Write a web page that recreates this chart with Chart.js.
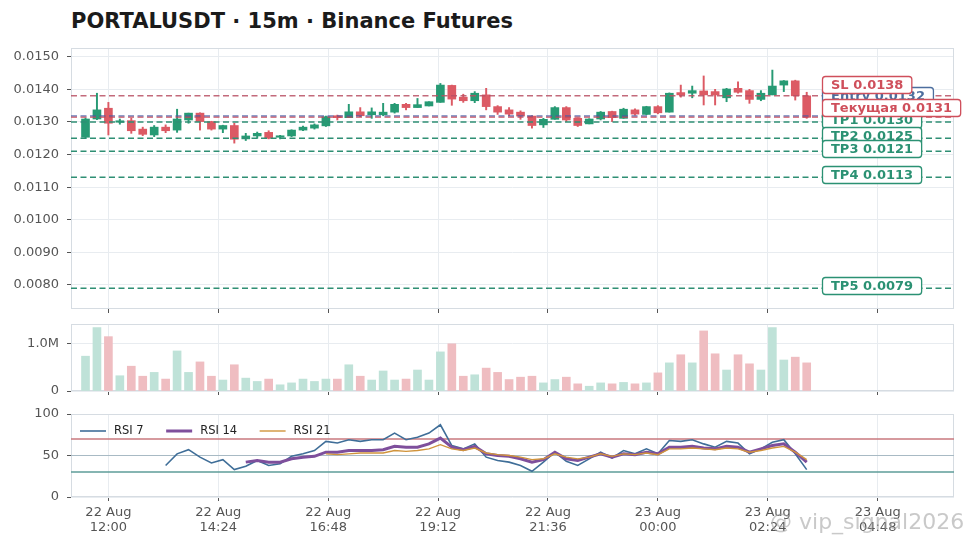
<!DOCTYPE html>
<html><head><meta charset="utf-8">
<script src="https://cdn.jsdelivr.net/npm/chart.js@4.4.1/dist/chart.umd.min.js"></script>
<style>
html,body{margin:0;padding:0;background:#fff;width:971px;height:548px;overflow:hidden;font-family:'DejaVu Sans',sans-serif}
.box{position:absolute;left:0;width:971px}
#title{position:absolute;left:71px;top:9px;font-weight:bold;font-size:21px;font-family:'DejaVu Sans';color:#1b1b1b;white-space:nowrap}
#wm{position:absolute;left:770px;top:509px;font-size:22px;font-family:'DejaVu Sans';color:rgba(165,165,165,0.6);white-space:nowrap;z-index:5}
</style></head><body>
<div id="title">PORTALUSDT · 15m · Binance Futures</div>
<div class="box" style="top:38px;height:279px"><canvas id="c1"></canvas></div>
<div class="box" style="top:314px;height:85px"><canvas id="c2"></canvas></div>
<div class="box" style="top:404px;height:144px"><canvas id="c3"></canvas></div>
<div id="wm">@ vip_signal2026</div>
<script>
// ---- categories (15m candles) ----
const times = [
"22 Aug 11:30","22 Aug 11:45","22 Aug 12:00","22 Aug 12:15","22 Aug 12:30","22 Aug 12:45","22 Aug 13:00","22 Aug 13:15",
"22 Aug 13:30","22 Aug 13:45","22 Aug 14:00","22 Aug 14:15","22 Aug 14:30","22 Aug 14:45","22 Aug 15:00","22 Aug 15:15",
"22 Aug 15:30","22 Aug 15:45","22 Aug 16:00","22 Aug 16:15","22 Aug 16:30","22 Aug 16:45","22 Aug 17:00","22 Aug 17:15",
"22 Aug 17:30","22 Aug 17:45","22 Aug 18:00","22 Aug 18:15","22 Aug 18:30","22 Aug 18:45","22 Aug 19:00","22 Aug 19:15",
"22 Aug 19:30","22 Aug 19:45","22 Aug 20:00","22 Aug 20:15","22 Aug 20:30","22 Aug 20:45","22 Aug 21:00","22 Aug 21:15",
"22 Aug 21:30","22 Aug 21:45","22 Aug 22:00","22 Aug 22:15","22 Aug 22:30","22 Aug 22:45","22 Aug 23:00","22 Aug 23:15",
"22 Aug 23:30","22 Aug 23:45","23 Aug 00:00","23 Aug 00:15","23 Aug 00:30","23 Aug 00:45","23 Aug 01:00","23 Aug 01:15",
"23 Aug 01:30","23 Aug 01:45","23 Aug 02:00","23 Aug 02:15","23 Aug 02:30","23 Aug 02:45","23 Aug 03:00","23 Aug 03:15"];

const opens = [0.01253,0.01309,0.01342,0.01299,0.01304,0.01278,0.01260,0.01284,0.01275,0.01306,0.01327,0.01301,0.01278,0.01289,0.01248,0.01257,
0.01268,0.01253,0.01257,0.01275,0.01281,0.01288,0.01319,0.01313,0.01331,0.01322,0.01322,0.01330,0.01354,0.01344,0.01349,0.01360,
0.01412,0.01376,0.01365,0.01383,0.01347,0.01337,0.01330,0.01318,0.01291,0.01308,0.01344,0.01311,0.01294,0.01309,0.01332,0.01311,
0.01337,0.01323,0.01347,0.01330,0.01390,0.01388,0.01395,0.01393,0.01374,0.01403,0.01396,0.01369,0.01383,0.01413,0.01426,0.01380];
const highs = [0.01312,0.01388,0.01360,0.01309,0.01311,0.01284,0.01289,0.01291,0.01339,0.01327,0.01328,0.01302,0.01290,0.01296,0.01265,0.01269,
0.01273,0.01259,0.01276,0.01287,0.01294,0.01318,0.01321,0.01354,0.01344,0.01343,0.01357,0.01357,0.01357,0.01372,0.01362,0.01418,
0.01413,0.01385,0.01393,0.01403,0.01350,0.01344,0.01334,0.01319,0.01311,0.01347,0.01347,0.01312,0.01310,0.01332,0.01333,0.01342,
0.01340,0.01348,0.01350,0.01389,0.01413,0.01410,0.01441,0.01400,0.01403,0.01423,0.01400,0.01396,0.01459,0.01427,0.01428,0.01391];
const lows = [0.01250,0.01307,0.01260,0.01293,0.01265,0.01258,0.01255,0.01267,0.01268,0.01296,0.01275,0.01275,0.01267,0.01235,0.01243,0.01250,
0.01248,0.01248,0.01255,0.01273,0.01278,0.01286,0.01306,0.01313,0.01316,0.01311,0.01319,0.01327,0.01337,0.01344,0.01349,0.01360,
0.01351,0.01360,0.01359,0.01337,0.01323,0.01319,0.01308,0.01281,0.01283,0.01308,0.01301,0.01286,0.01294,0.01306,0.01301,0.01311,
0.01321,0.01322,0.01325,0.01330,0.01376,0.01374,0.01352,0.01352,0.01362,0.01388,0.01357,0.01365,0.01383,0.01393,0.01367,0.01311];
const closes = [0.01309,0.01337,0.01296,0.01303,0.01273,0.01262,0.01284,0.01273,0.01309,0.01327,0.01301,0.01278,0.01289,0.01247,0.01257,0.01265,
0.01250,0.01257,0.01275,0.01284,0.01291,0.01316,0.01313,0.01331,0.01319,0.01331,0.01330,0.01354,0.01344,0.01353,0.01362,0.01413,
0.01370,0.01365,0.01388,0.01347,0.01330,0.01324,0.01318,0.01289,0.01308,0.01344,0.01306,0.01289,0.01309,0.01330,0.01313,0.01339,
0.01324,0.01347,0.01328,0.01388,0.01383,0.01396,0.01383,0.01383,0.01401,0.01391,0.01369,0.01388,0.01410,0.01426,0.01380,0.01314];
const volumes = [730000,1330000,1140000,320000,520000,310000,390000,250000,840000,390000,610000,310000,230000,550000,270000,200000,
250000,130000,170000,250000,200000,250000,250000,550000,310000,230000,420000,230000,250000,440000,230000,820000,
990000,310000,340000,480000,390000,240000,290000,310000,170000,240000,290000,150000,100000,170000,150000,180000,
150000,170000,380000,590000,760000,590000,1260000,780000,440000,760000,570000,440000,1330000,650000,710000,590000];
const rsi7 = [null,null,null,null,null,null,null,38,52,57,48,41,45,33,37,44,
38,40,49,52,56,67,65,69,67,69,69,77,69,72,77,87,
62,58,64,48,44,42,38,31,42,54,43,38,46,54,47,56,
52,58,52,68,67,69,64,60,67,65,52,58,66,69,52,33];
const rsi14 = [null,null,null,null,null,null,null,null,null,null,null,null,null,null,42,44,
42,42,46,48,49,54,54,56,56,56,57,61,60,60,64,71,
60,57,61,52,50,49,46,42,45,54,46,44,48,52,48,52,
51,54,52,60,60,61,59,58,61,60,54,58,62,64,54,42];
const rsi21 = [null,null,null,null,null,null,null,null,null,null,null,null,null,null,null,null,
null,null,null,null,null,52,51,52,53,53,53,56,55,56,58,63,
58,56,59,53,51,50,48,45,46,52,48,46,48,52,49,52,
51,53,51,58,58,59,58,57,59,58,54,56,59,61,54,45];

// ---- levels ----
const levelNames  = ["SL","Entry","Текущая","TP1","TP2","TP3","TP4","TP5"];
const levelValues = [0.0138,0.01318,0.01314,0.0130,0.0125,0.0121,0.0113,0.0079];

// ---- tick labels ----
const xTickLabels = ["22 Aug 12:00","22 Aug 14:24","22 Aug 16:48","22 Aug 19:12","22 Aug 21:36","23 Aug 00:00","23 Aug 02:24","23 Aug 04:48"];
const priceTicks = [0.008,0.009,0.010,0.011,0.012,0.013,0.014,0.015];
const volumeTicks = [0,1000000];
const rsiTicks = [0,50,100];
const rsiLegend = ["RSI 7","RSI 14","RSI 21"];

function toMin(s){const p=s.split(' ');const hm=p[2].split(':');return (parseInt(p[0])-22)*1440+parseInt(hm[0])*60+parseInt(hm[1]);}

Chart.defaults.font.family = "'DejaVu Sans', sans-serif";
Chart.defaults.font.size = 13;
Chart.defaults.color = '#555';
Chart.defaults.animation = false;

const GREEN='#279a74', RED='#dc5a64', GREEN_L='#bfe2d8', RED_L='#efbdc1';
const GRID='#e8ecf0', FRAME='#d6dce2', TICK='#555';
const candleColors = opens.map((o,i)=> closes[i]>=o?GREEN:RED);
const volColors = opens.map((o,i)=> closes[i]>=o?GREEN_L:RED_L);

function xAxis(showLabels,h){
  return {type:'linear',min:671,max:1828,offset:false,
    afterBuildTicks:s=>{s.ticks=xTickLabels.map(t=>({value:toMin(t)}));},
    afterFit:s=>{s.height=h;s.paddingLeft=0;s.paddingRight=0;},
    grid:{color:GRID,lineWidth:1,offset:false,drawTicks:true,tickLength:4,tickColor:TICK,tickWidth:1},
    border:{display:false},
    ticks:{display:showLabels,autoSkip:false,maxRotation:0,minRotation:0,color:'#555',font:{size:13,lineHeight:1.15},padding:4,
      callback:(v)=>{const t=xTickLabels.find(s=>toMin(s)===v);if(!t)return '';const p=t.split(' ');return [p[0]+' '+p[1],p[2]];}}
  };
}
function yAxis(min,max,ticks,fmt){
  return {type:'linear',min:min,max:max,
    afterBuildTicks:s=>{s.ticks=ticks.map(v=>({value:v}));},
    afterFit:s=>{s.width=71;s.paddingTop=0;s.paddingBottom=0;},
    grid:{color:GRID,lineWidth:1,drawTicks:true,tickLength:4,tickColor:TICK,tickWidth:1},
    border:{display:false},
    ticks:{autoSkip:false,callback:fmt,color:'#555',font:{size:13},padding:8}
  };
}
const framePlugin={id:'frame',beforeDatasetsDraw(c){const a=c.chartArea,ctx=c.ctx;ctx.save();ctx.strokeStyle=FRAME;ctx.lineWidth=1;ctx.strokeRect(a.left+0.5,a.top+0.5,a.right-a.left-1,a.bottom-a.top-1);ctx.restore();}};

const levelStyle = {
  "SL":{line:'rgba(185,80,100,0.85)',text:'#cf4f5b'},
  "Entry":{line:'rgba(70,90,165,0.8)',text:'#4c6e9e'},
  "Текущая":{line:'rgba(200,70,85,0.7)',text:'#cf4f5b'},
  "TP":{line:'#2f8f74',text:'#2b9173'}
};
function styleOf(n){return levelStyle[n]||levelStyle.TP;}
const drawOrder=["Entry","SL","TP1","TP2","TP3","TP4","TP5","Текущая"];

const levelPlugin={id:'levels',
  afterDatasetsDraw(c){
    const ctx=c.ctx,a=c.chartArea,x=c.scales.x,y=c.scales.y;
    ctx.save();
    ctx.lineWidth=1.5;ctx.setLineDash([6,3.5]);
    levelNames.forEach((n,i)=>{const py=y.getPixelForValue(levelValues[i]);ctx.strokeStyle=styleOf(n).line;ctx.beginPath();ctx.moveTo(a.left,py);ctx.lineTo(a.right,py);ctx.stroke();});
    ctx.setLineDash([]);
    const items=levelNames.map((n,i)=>({name:n,value:levelValues[i],y:y.getPixelForValue(levelValues[i])-2.5}));
    const sorted=[...items].sort((p,q)=>q.y-p.y);
    for(let k=1;k<sorted.length;k++){if(sorted[k].y>sorted[k-1].y-11.8)sorted[k].y=sorted[k-1].y-11.8;}
    const bx=Math.round(x.getPixelForValue(toMin(times[times.length-1])))+15.5;
    ctx.font="bold 13px 'DejaVu Sans'";ctx.textBaseline='middle';ctx.textAlign='left';
    drawOrder.forEach(n=>{
      const it=items.find(q=>q.name===n);const st=styleOf(n);
      const text=n+' '+it.value.toFixed(4);
      const w=ctx.measureText(text).width+17,h=17,top=Math.round(it.y-h/2)+0.5;
      ctx.beginPath();ctx.roundRect(bx,top,w,h,3);ctx.fillStyle='#fff';ctx.fill();
      ctx.lineWidth=1.3;ctx.strokeStyle=st.text;ctx.stroke();
      ctx.fillStyle=st.text;ctx.fillText(text,bx+8.5,top+h/2+0.5);
    });
    ctx.restore();
  }};

new Chart(document.getElementById('c1'),{
  type:'bar',
  data:{datasets:[
    {label:'wick',data:times.map((t,i)=>({x:toMin(t),y:[lows[i],highs[i]]})),backgroundColor:candleColors,barThickness:1.3,grouped:false,order:2},
    {label:'body',data:times.map((t,i)=>({x:toMin(t),y:[opens[i],closes[i]]})),backgroundColor:candleColors,barThickness:8,minBarLength:1.5,grouped:false,order:1}
  ]},
  options:{responsive:true,maintainAspectRatio:false,animation:false,
    layout:{padding:{top:10,right:17,left:0,bottom:0}},
    plugins:{legend:{display:false},tooltip:{enabled:false}},
    scales:{x:xAxis(false,8),y:yAxis(0.007264,0.015267,priceTicks,v=>v.toFixed(4))}},
  plugins:[framePlugin,levelPlugin]
});

new Chart(document.getElementById('c2'),{
  type:'bar',
  data:{datasets:[{label:'Volume',data:times.map((t,i)=>({x:toMin(t),y:volumes[i]})),backgroundColor:volColors,barThickness:8}]},
  options:{responsive:true,maintainAspectRatio:false,animation:false,
    layout:{padding:{top:10,right:17,left:0,bottom:0}},
    plugins:{legend:{display:false},tooltip:{enabled:false}},
    scales:{x:xAxis(false,8),y:yAxis(0,1405000,volumeTicks,v=>v===0?'0':(v/1e6).toFixed(1)+'M')}},
  plugins:[framePlugin]
});

const rsiColors=['#3f6e98','#7e4f9c','#d0943c'];
const rsiWidths=[1.6,3,1.4];
const rsiLevelPlugin={id:'rsiLevels',beforeDatasetsDraw(c){
  const ctx=c.ctx,a=c.chartArea,y=c.scales.y;ctx.save();
  [[70,'#c9787e',1.5],[50,'#a8bac4',1.1],[30,'#5e9c98',1.5]].forEach(l=>{const py=y.getPixelForValue(l[0]);ctx.strokeStyle=l[1];ctx.lineWidth=l[2];ctx.beginPath();ctx.moveTo(a.left,py);ctx.lineTo(a.right,py);ctx.stroke();});
  ctx.restore();}};
const rsiLegendPlugin={id:'rsiLegend',afterDraw(c){
  const ctx=c.ctx,a=c.chartArea;ctx.save();
  ctx.font="11.5px 'DejaVu Sans'";ctx.textBaseline='middle';ctx.textAlign='left';
  let x0=a.left+9;const yy=a.top+17;
  rsiLegend.forEach((t,i)=>{ctx.strokeStyle=rsiColors[i];ctx.lineWidth=rsiWidths[i];ctx.beginPath();ctx.moveTo(x0,yy);ctx.lineTo(x0+26,yy);ctx.stroke();
    ctx.fillStyle='#222';ctx.fillText(t,x0+34,yy);x0+=34+ctx.measureText(t).width+22.5;});
  ctx.restore();}};

new Chart(document.getElementById('c3'),{
  type:'line',
  data:{datasets:[
    {label:rsiLegend[0],data:times.map((t,i)=>({x:toMin(t),y:rsi7[i]})),borderColor:rsiColors[0],borderWidth:rsiWidths[0],pointRadius:0,tension:0,order:3},
    {label:rsiLegend[1],data:times.map((t,i)=>({x:toMin(t),y:rsi14[i]})),borderColor:rsiColors[1],borderWidth:rsiWidths[1],pointRadius:0,tension:0,order:2},
    {label:rsiLegend[2],data:times.map((t,i)=>({x:toMin(t),y:rsi21[i]})),borderColor:rsiColors[2],borderWidth:rsiWidths[2],pointRadius:0,tension:0,order:1}
  ]},
  options:{responsive:true,maintainAspectRatio:false,animation:false,
    layout:{padding:{top:10,right:17,left:0,bottom:0}},
    plugins:{legend:{display:false},tooltip:{enabled:false}},
    scales:{x:xAxis(true,51),y:yAxis(0,100,rsiTicks,v=>String(v))}},
  plugins:[framePlugin,rsiLevelPlugin,rsiLegendPlugin]
});
</script>
</body></html>
